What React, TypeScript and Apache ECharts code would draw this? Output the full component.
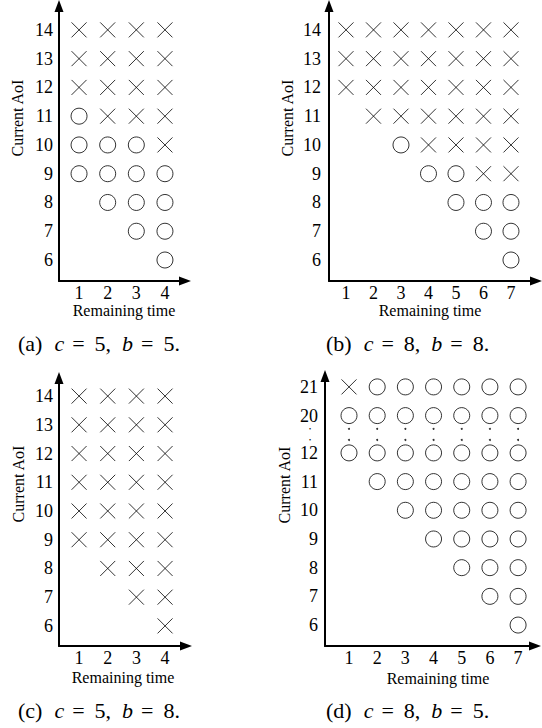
import React, { useEffect, useRef } from 'react';
import * as echarts from 'echarts';

// ---- data ----
// (a) c = 5, b = 5
const timesA = [1, 2, 3, 4];
const aoiA = [14, 13, 12, 11, 10, 9, 8, 7, 6];
const marksA = ['XXXX', 'XXXX', 'XXXX', 'OXXX', 'OOOX', 'OOOO', '.OOO', '..OO', '...O'];

// (b) c = 8, b = 8
const timesB = [1, 2, 3, 4, 5, 6, 7];
const aoiB = [14, 13, 12, 11, 10, 9, 8, 7, 6];
const marksB = ['XXXXXXX', 'XXXXXXX', 'XXXXXXX', '.XXXXXX', '..OXXXX', '...OOXX', '....OOO', '.....OO', '......O'];

// (c) c = 5, b = 8
const timesC = [1, 2, 3, 4];
const aoiC = [14, 13, 12, 11, 10, 9, 8, 7, 6];
const marksC = ['XXXX', 'XXXX', 'XXXX', 'XXXX', 'XXXX', 'XXXX', '.XXX', '..XX', '...X'];

// (d) c = 8, b = 5  (axis broken between 12 and 20)
const timesD = [1, 2, 3, 4, 5, 6, 7];
const aoiD = [21, 20, 12, 11, 10, 9, 8, 7, 6];
const marksD = ['XOOOOOO', 'OOOOOOO', 'OOOOOOO', '.OOOOOO', '..OOOOO', '...OOOO', '....OOO', '.....OO', '......O'];

const captionLabels = ['(a)', '(b)', '(c)', '(d)'];
const captionC = [5, 8, 5, 8];
const captionB = [5, 8, 8, 5];

const xName = 'Remaining time';
const yName = 'Current AoI';

// ---- layout / style ----
const FONT = 'Liberation Serif';
const ident = (a: number) => a;
const breakPos = (a: number) => (a <= 12 ? a : a - 20 + 13.3);
const DOT_POS = [12.45, 12.84];
const CROSS = 'path://M0,0L10,10M10,0L0,10';

const panels = [
  { times: timesA, aoi: aoiA, marks: marksA, pos: ident, grid: { left: 59, top: 6, width: 126, height: 275 }, x: [0.30, 4.70], y: [5.27, 14.83], yMargin: 6, xName: [124, 310], yName: [17, 118], cap: [18, 343] },
  { times: timesB, aoi: aoiB, marks: marksB, pos: ident, grid: { left: 329, top: 6, width: 207, height: 275 }, x: [0.382, 7.91], y: [5.27, 14.83], yMargin: 8, xName: [430, 310], yName: [287, 118], cap: [326, 343] },
  { times: timesC, aoi: aoiC, marks: marksC, pos: ident, grid: { left: 59, top: 378, width: 127, height: 268 }, x: [0.30, 4.73], y: [5.30, 14.63], yMargin: 6, xName: [123, 677], yName: [18, 484], cap: [18, 710] },
  { times: timesD, aoi: aoiD, marks: marksD, pos: breakPos, grid: { left: 325, top: 376, width: 210, height: 270 }, x: [0.148, 7.60], y: [5.27, 14.68], yMargin: 7, xName: [438, 678], yName: [284, 485], cap: [326, 710], dots: true },
];

function points(p: any, ch: string) {
  const out: number[][] = [];
  p.aoi.forEach((a: number, r: number) => {
    p.times.forEach((t: number, c: number) => {
      if (p.marks[r][c] === ch) out.push([t, p.pos(a)]);
    });
  });
  return out;
}

const axisLine = {
  show: true,
  onZero: false,
  lineStyle: { color: '#000', width: 2 },
  symbol: ['none', 'triangle'],
  symbolSize: [9, 12],
};

function buildOption() {
  const grid: any[] = [];
  const xAxis: any[] = [];
  const yAxis: any[] = [];
  const series: any[] = [];
  const graphic: any[] = [];

  panels.forEach((p: any, i) => {
    grid.push({ ...p.grid, containLabel: false });
    xAxis.push({
      type: 'value', gridIndex: i, min: p.x[0], max: p.x[1], position: 'bottom',
      axisLine, axisTick: { show: false }, splitLine: { show: false },
      axisLabel: { customValues: p.times, color: '#000', fontFamily: FONT, fontSize: 18, lineHeight: 16, margin: 4 },
    });
    const yVals = p.aoi.map(p.pos);
    const custom = p.dots ? [...yVals, ...DOT_POS] : yVals;
    yAxis.push({
      type: 'value', gridIndex: i, min: p.y[0], max: p.y[1], position: 'left',
      axisLine, axisTick: { show: false }, splitLine: { show: false },
      axisLabel: {
        customValues: custom, color: '#000', fontFamily: FONT, fontSize: 18, lineHeight: 16, margin: p.yMargin,
        formatter: (v: number) => {
          const idx = yVals.findIndex((q: number) => Math.abs(q - v) < 0.01);
          return idx >= 0 ? String(p.aoi[idx]) : '{d|•}';
        },
        rich: { d: { fontFamily: FONT, fontSize: 6, lineHeight: 6, color: '#000', padding: [0, 7, 0, 0] } },
      },
    });
    series.push({
      type: 'scatter', xAxisIndex: i, yAxisIndex: i, data: points(p, 'O'), symbol: 'circle', symbolSize: 16,
      itemStyle: { color: 'rgba(0,0,0,0)', borderColor: '#000', borderWidth: 1 }, silent: true,
    });
    series.push({
      type: 'scatter', xAxisIndex: i, yAxisIndex: i, data: points(p, 'X'), symbol: CROSS, symbolSize: 15,
      itemStyle: { color: 'rgba(0,0,0,0)', borderColor: '#000', borderWidth: 1 }, silent: true,
    });
    if (p.dots) {
      const dd: number[][] = [];
      p.times.forEach((t: number) => DOT_POS.forEach((y) => dd.push([t, y])));
      series.push({
        type: 'scatter', xAxisIndex: i, yAxisIndex: i, data: dd, symbol: 'circle', symbolSize: 2,
        itemStyle: { color: '#000' }, silent: true,
      });
    }
    graphic.push({
      type: 'text', x: p.xName[0], y: p.xName[1],
      style: { text: xName, font: `16px ${FONT}`, fill: '#000', align: 'center', verticalAlign: 'middle' },
    });
    graphic.push({
      type: 'text', x: p.yName[0], y: p.yName[1], rotation: Math.PI / 2,
      style: { text: yName, font: `16px ${FONT}`, fill: '#000', align: 'center', verticalAlign: 'middle' },
    });
    graphic.push({
      type: 'text', x: p.cap[0], y: p.cap[1],
      style: {
        text: `{n|${captionLabels[i]}}{i|c}{eq|=}{n|${captionC[i]},}{ib|b}{eq|=}{n|${captionB[i]}.}`,
        align: 'left', verticalAlign: 'middle', fill: '#000',
        rich: {
          n: { fontFamily: FONT, fontSize: 22, fill: '#000' },
          i: { fontFamily: FONT, fontSize: 22, fontStyle: 'italic', fill: '#000', padding: [0, 0, 0, 12] },
          ib: { fontFamily: FONT, fontSize: 22, fontStyle: 'italic', fill: '#000', padding: [0, 0, 0, 11] },
          eq: { fontFamily: FONT, fontSize: 22, fill: '#000', padding: [0, 10, 0, 8] },
        },
      },
    });
  });

  return { animation: false, backgroundColor: '#fff', grid, xAxis, yAxis, series, graphic };
}

export default function App() {
  const ref = useRef<HTMLDivElement>(null);
  useEffect(() => {
    if (!ref.current) return;
    const chart = echarts.init(ref.current, undefined, { renderer: 'svg' });
    chart.setOption(buildOption() as any);
    return () => chart.dispose();
  }, []);
  return <div ref={ref} style={{ position: 'absolute', left: 0, top: 0, width: 542, height: 728 }} />;
}
